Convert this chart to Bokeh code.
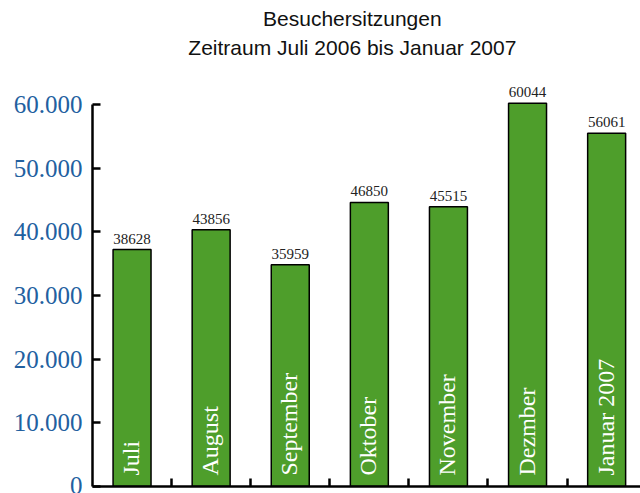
import math
from bokeh.plotting import figure
from bokeh.models import FixedTicker, ColumnDataSource
from bokeh.core.properties import value
from bokeh.embed import file_html
from bokeh.resources import INLINE

# ---- data ----
months = ["Juli", "August", "September", "Oktober", "November", "Dezmber", "Januar 2007"]
bar_heights = [37220, 40320, 34820, 44610, 43930, 60200, 55490]
bar_labels = ["38628", "43856", "35959", "46850", "45515", "60044", "56061"]
y_ticks = [0, 10000, 20000, 30000, 40000, 50000, 60000]
y_tick_labels = ["0", "10.000", "20.000", "30.000", "40.000", "50.000", "60.000"]
title_lines = ["Besuchersitzungen", "Zeitraum Juli 2006 bis Januar 2007"]

centers = [i + 0.5 for i in range(len(months))]
src = ColumnDataSource(dict(x=centers, top=bar_heights, lab=bar_labels, month=months))

W, H = 640, 493
p = figure(width=W, height=H, output_backend="svg", toolbar_location=None,
           x_range=(0, 6.928), y_range=(0, 76330),
           min_border_left=92, min_border_right=0, min_border_top=0, min_border_bottom=7)
p.outline_line_color = None
p.xgrid.visible = False
p.ygrid.visible = False
p.background_fill_color = "white"

p.vbar(x="x", top="top", width=0.48, bottom=0, source=src,
       fill_color="#4e9e2b", line_color="black", line_width=1.5)

p.text(x="x", y="top", text="lab", source=src, y_offset=-6,
       text_align="center", text_baseline="bottom",
       text_font=value("Liberation Serif"), text_font_size="15px", text_color="#222222")

p.text(x="x", y=0, text="month", source=src, angle=math.pi / 2, y_offset=-11, x_offset=-1,
       text_align="left", text_baseline="middle",
       text_font=value("Liberation Serif"), text_font_size="24px", text_color="white")

# titles
p.text(x=[3.285, 3.285], y=[73505, 68950], text=title_lines,
       text_align="center", text_baseline="middle",
       text_font=value("Liberation Sans"), text_font_size="21px", text_color="#111111")

# y axis
ya = p.yaxis[0]
ya.ticker = FixedTicker(ticks=y_ticks)
ya.major_label_overrides = {t: l for t, l in zip(y_ticks, y_tick_labels)}
ya.bounds = (0, 60000)
ya.major_tick_in = 8
ya.major_tick_out = 0
ya.minor_tick_in = 0
ya.minor_tick_out = 0
ya.axis_line_width = 2.5
ya.major_tick_line_width = 2.5
ya.major_label_standoff = 10
ya.major_label_text_font = "Liberation Serif"
ya.major_label_text_font_size = "25px"
ya.major_label_text_color = "#22609f"

# x axis
xa = p.xaxis[0]
xa.ticker = FixedTicker(ticks=[1, 2, 3, 4, 5, 6])
xa.major_label_overrides = {i: "" for i in range(1, 7)}
xa.major_tick_in = 8
xa.major_tick_out = 0
xa.minor_tick_in = 0
xa.minor_tick_out = 0
xa.axis_line_width = 2.5
xa.major_tick_line_width = 2.5
xa.major_label_standoff = 0

open("out.html", "w").write(file_html(p, INLINE))
